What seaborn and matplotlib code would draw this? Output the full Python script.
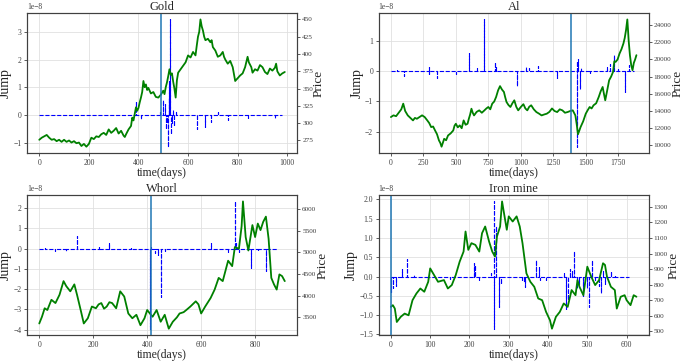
import matplotlib
matplotlib.use("Agg")
import matplotlib.pyplot as plt
import seaborn as sns
import numpy as np

sns.set_theme(style="whitegrid")
plt.rcParams['font.family'] = ['Liberation Serif', 'DejaVu Serif']
plt.rcParams.update({
    'axes.edgecolor': '0.25', 'axes.linewidth': 0.8,
    'grid.color': '0.88', 'grid.linewidth': 0.6,
    'xtick.bottom': True, 'ytick.left': True,
    'xtick.major.size': 2.5, 'ytick.major.size': 2.5,
    'xtick.major.width': 0.6, 'ytick.major.width': 0.6,
    'xtick.color': '0.25', 'ytick.color': '0.25',
    'xtick.labelsize': 5.5, 'ytick.labelsize': 5.5,
    'axes.unicode_minus': True,
})

# ---- Gold ----
gold_days = [0, 10, 20, 30, 40, 50, 60, 70, 80, 90, 100, 110, 120, 130, 140, 150, 160, 170, 180, 190,
             200, 210, 220, 230, 240, 250, 260, 270, 280, 290, 300, 310, 320, 330, 340, 345, 350, 360, 370, 375,
             380, 390, 395, 400, 405, 410, 415, 420, 425, 430, 435, 440, 450, 460, 470, 480, 490, 500, 505, 510,
             515, 520, 525, 530, 535, 540, 545, 550, 555, 560, 570, 580, 590, 600, 610, 620, 630, 635, 640, 645,
             650, 655, 660, 665, 670, 680, 690, 695, 700, 710, 720, 730, 740, 745, 750, 760, 770, 780, 790, 800,
             810, 820, 830, 840, 845, 855, 860, 870, 880, 890, 900, 910, 920, 930, 940, 950, 955, 960, 970, 980, 990]
gold_price = [276, 279, 281, 283, 279, 276, 277, 274, 276, 273, 276, 273, 275, 272, 274, 271, 272, 267, 270, 266,
              270, 279, 277, 281, 280, 284, 286, 283, 291, 286, 289, 293, 285, 289, 282, 280, 284, 291, 296, 308,
              304, 323, 318, 322, 330, 337, 345, 361, 352, 356, 348, 351, 343, 345, 338, 337, 341, 347, 342, 352,
              359, 368, 378, 370, 372, 360, 350, 337, 362, 373, 378, 383, 388, 398, 395, 403, 398, 412, 425, 432,
              450, 440, 434, 425, 420, 422, 417, 420, 410, 405, 396, 398, 403, 396, 392, 386, 390, 381, 361, 365,
              369, 372, 381, 396, 388, 381, 373, 378, 376, 384, 381, 374, 371, 379, 376, 380, 386, 375, 369, 372, 374]
gold_jump_days = [390, 410, 488, 498, 505, 510, 515, 520, 522, 525, 527, 530, 535, 540, 545, 550, 638, 667, 694,
                  720, 762, 840, 950]
gold_jump_vals = [0.5, -0.13, 0.1, 0.55, 0.4, -0.5, -0.3, -1.15, 1.25, 0.6, 3.47, -0.7, -0.3, 0.17, -0.4, 0.15,
                  -0.5, -0.45, -0.25, 0.1, -0.17, -0.1, -0.1]
gold_jump_end = 980
gold_event = 489

# ---- Al ----
al_days = [0, 20, 40, 60, 80, 95, 110, 130, 150, 170, 185, 200, 220, 240, 260, 280, 295, 310, 325, 340,
           355, 370, 380, 390, 400, 410, 425, 440, 460, 480, 490, 500, 515, 530, 545, 560, 575, 590, 600, 610,
           620, 630, 640, 660, 680, 700, 720, 735, 750, 765, 780, 795, 810, 825, 840, 855, 870, 880, 890, 905,
           920, 935, 950, 965, 980, 1000, 1020, 1035, 1050, 1065, 1080, 1100, 1120, 1140, 1160, 1180, 1200, 1220,
           1240, 1260, 1280, 1300, 1320, 1340, 1360, 1380, 1400, 1420, 1430, 1440, 1450, 1460, 1480, 1500, 1515,
           1530, 1545, 1560, 1580, 1600, 1615, 1630, 1640, 1650, 1665, 1680, 1695, 1710, 1720, 1730, 1745, 1760,
           1775, 1790, 1800, 1810, 1820, 1825, 1830, 1840, 1850, 1860, 1870, 1880, 1890]
al_price = [13300, 13500, 13400, 13800, 14200, 14860, 14000, 13490, 13200, 12910, 13200, 13100, 13300, 13500,
            13300, 12910, 12600, 12130, 12200, 11740, 11300, 10580, 10300, 9850, 10300, 10770, 10600, 11160, 11400,
            11740, 12300, 12520, 12100, 12330, 12000, 12910, 12400, 12520, 13100, 13600, 14270, 13800, 13490, 13900,
            14080, 13800, 14080, 14300, 14470, 14200, 14860, 15100, 15640, 16400, 16900, 16500, 16220, 15600, 15050,
            14700, 14470, 14900, 15250, 14500, 14080, 14470, 14800, 14300, 14080, 14500, 14670, 14200, 13880, 13700,
            13490, 13600, 13690, 13900, 14300, 14000, 13880, 14200, 14080, 13800, 13880, 14000, 14080, 13490, 12500,
            11300, 11700, 12130, 12800, 13690, 14100, 14470, 14300, 14670, 14900, 15640, 16300, 16800, 16000, 15250,
            16400, 17580, 18000, 18550, 19800, 19720, 20000, 20690, 21200, 21860, 22500, 23420, 24660, 23500, 22250,
            20500, 19330, 18750, 19600, 20000, 20500]
al_jump_days = [50, 100, 290, 295, 355, 500, 605, 665, 720, 800, 810, 970, 1040, 1060, 1130, 1280, 1430, 1435,
                1440, 1455, 1460, 1530, 1665, 1690, 1720, 1750, 1800, 1830]
al_jump_vals = [0.05, -0.15, 0.13, -0.1, -0.23, -0.1, 0.6, 0.1, 1.72, 0.3, 0.15, -0.48, 0.15, 0.1, 0.18, -0.22,
                0.35, -2.5, 0.4, -0.6, 0.1, -0.05, 0.15, 0.25, 0.55, 0.1, -0.7, 0.2]
al_jump_end = 1870
al_event = 1389

# ---- Whorl ----
whorl_days = [0, 10, 20, 30, 45, 60, 75, 90, 100, 115, 130, 140, 155, 165, 180, 195, 210, 220, 230, 240,
              250, 260, 270, 285, 300, 315, 330, 345, 360, 375, 390, 400, 410, 420, 435, 450, 465, 480, 495, 510,
              520, 535, 545, 560, 580, 590, 600, 615, 635, 650, 665, 680, 690, 700, 715, 725, 740, 750, 755, 765,
              775, 790, 800, 810, 820, 830, 840, 850, 860, 870, 880, 890, 900, 910]
whorl_price = [3360, 3515, 3710, 3670, 3905, 3830, 4020, 4335, 4220, 4100, 4260, 4020, 3630, 3360, 3480, 3750, 3710,
               3800, 3830, 3700, 3750, 3850, 3830, 3710, 4100, 3980, 3590, 3480, 3560, 3320, 3480, 3670, 3590, 3515,
               3670, 3400, 3560, 3240, 3400, 3500, 3590, 3620, 3670, 3750, 3870, 3800, 3590, 3750, 3945, 4140, 4410,
               4335, 4570, 4805, 4680, 5120, 5080, 5600, 6170, 5350, 5040, 5625, 5350, 5660, 5510, 5700, 5820, 5310,
               4410, 4260, 4140, 4490, 4450, 4335]
whorl_jump_days = [20, 60, 100, 140, 220, 260, 340, 412, 415, 430, 440, 450, 465, 635, 700, 725, 730, 740, 785,
                   810, 840]
whorl_jump_vals = [0.05, -0.1, -0.1, 0.62, 0.1, 0.3, 0.05, -3.95, 0.1, -0.2, -0.3, -2.4, -0.1, 0.3, -0.15, 2.33,
                   0.3, -0.15, -0.98, -0.1, -1.1]
whorl_jump_end = 885
whorl_event = 414

# ---- Iron mine ----
iron_days = [0, 5, 10, 15, 25, 35, 45, 55, 65, 75, 85, 95, 100, 110, 120, 135, 145, 155, 165, 175,
             185, 190, 197, 205, 215, 225, 232, 240, 250, 258, 265, 270, 278, 283, 290, 295, 300, 310, 320, 328,
             335, 345, 355, 365, 375, 385, 395, 405, 410, 420, 430, 440, 450, 460, 470, 475, 480, 490, 500, 510,
             520, 530, 540, 545, 550, 560, 570, 575, 585, 595, 600, 610, 618, 625]
iron_price = [658, 669, 647, 561, 594, 615, 604, 701, 744, 776, 755, 819, 905, 862, 819, 830, 776, 798, 862, 948,
              1013, 1142, 1024, 1067, 1056, 1013, 1131, 1174, 1077, 1013, 981, 1110, 1174, 1335, 1228, 1153, 1239,
              1206, 1239, 1174, 1067, 873, 819, 787, 712, 701, 626, 572, 518, 594, 626, 680, 658, 766, 733, 830, 787,
              733, 916, 852, 798, 830, 938, 927, 852, 787, 766, 647, 723, 733, 701, 669, 733, 723]
iron_jump_days = [0, 5, 12, 28, 42, 60, 95, 150, 212, 215, 225, 255, 262, 263, 268, 275, 280, 335, 340, 342, 370,
                  378, 380, 395, 440, 445, 450, 455, 460, 465, 475, 480, 490, 500, 505, 512, 520, 530, 535, 540,
                  545, 560, 570]
iron_jump_vals = [-0.4, -0.3, -0.25, 0.2, 0.45, 0.05, -0.05, -0.07, 0.35, 0.3, -0.08, 0.1, 1.95, -1.35, 1.3, -0.78,
                  -0.2, -0.1, -0.15, -0.27, 0.43, 0.25, -0.1, -0.1, 0.1, -0.83, -0.6, 0.2, 0.15, 0.67, -0.3, -0.2,
                  -0.5, -0.3, -0.78, 0.43, -0.1, -0.25, -0.43, 0.15, -0.2, 0.15, 0.05]
iron_jump_end = 605
iron_event = 0

panels = [
    ("Gold", gold_days, gold_price, gold_jump_days, gold_jump_vals, gold_jump_end, gold_event,
     [0, 200, 400, 600, 800, 1000]),
    ("Al", al_days, al_price, al_jump_days, al_jump_vals, al_jump_end, al_event,
     [0, 250, 500, 750, 1000, 1250, 1500, 1750]),
    ("Whorl", whorl_days, whorl_price, whorl_jump_days, whorl_jump_vals, whorl_jump_end, whorl_event,
     [0, 200, 400, 600, 800]),
    ("Iron mine", iron_days, iron_price, iron_jump_days, iron_jump_vals, iron_jump_end, iron_event,
     [0, 100, 200, 300, 400, 500, 600]),
]


def jump_path(days, vals, end):
    # baseline at zero with a vertical spike for every jump
    xs, ys = [0], [0.0]
    for d, v in zip(days, vals):
        xs += [d, d, d]
        ys += [0.0, v * 1e-8, 0.0]
    xs.append(end)
    ys.append(0.0)
    return xs, ys


fig, axes = plt.subplots(2, 2, figsize=(6.85, 3.63), dpi=100)
fig.subplots_adjust(left=0.0394, right=0.947, bottom=0.077, top=0.964, wspace=0.302, hspace=0.30)

for ax, (name, days, price, jd, jv, jend, event, xt) in zip(axes.flat, panels):
    jx, jy = jump_path(jd, jv, jend)
    sns.lineplot(x=jx, y=jy, ax=ax, color='blue', linestyle='--', linewidth=0.8,
                 estimator=None, sort=False)
    ax2 = ax.twinx()
    sns.lineplot(x=days, y=price, ax=ax2, color='green', linewidth=1.3, estimator=None, sort=False)
    ax2.axvline(event, color='#1f77b4', linewidth=1.1)
    ax2.grid(False)
    ax.set_xticks(xt)
    ax.set_title(name, fontsize=9, pad=2)
    ax.set_xlabel("time(days)", fontsize=8.5, labelpad=0)
    ax.set_ylabel("Jump", fontsize=10, labelpad=1)
    ax2.set_ylabel("Price", fontsize=9.5, labelpad=0)
    ax.yaxis.get_offset_text().set_fontsize(5.5)
    ax.tick_params(axis='both', pad=1.5)
    ax2.tick_params(axis='y', pad=1.2, labelsize=5.2)
    for s in ax2.spines.values():
        s.set_edgecolor('0.25')

plt.savefig("out.png", dpi=100)
plt.close()
